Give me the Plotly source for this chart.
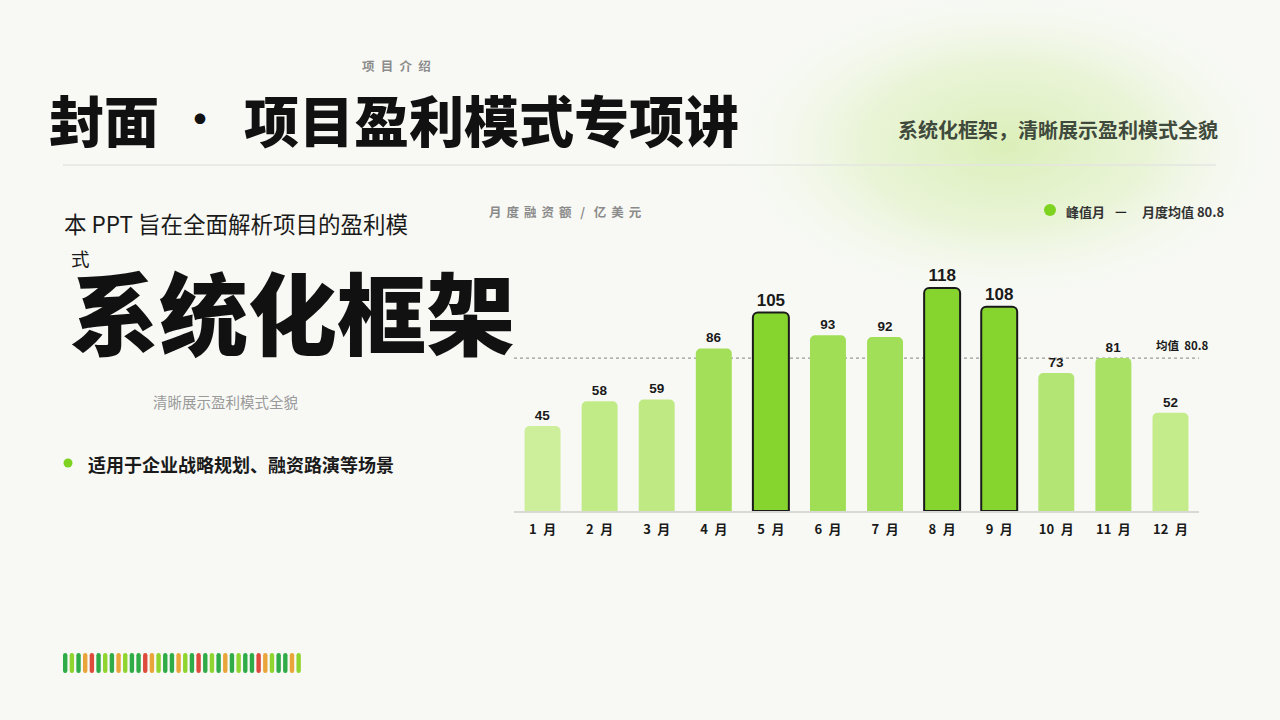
import base64
import plotly.graph_objects as go

# ---------------- data ----------------
months = ["1\u2002月", "2\u2002月", "3\u2002月", "4\u2002月", "5\u2002月", "6\u2002月",
          "7\u2002月", "8\u2002月", "9\u2002月", "10\u2002月", "11\u2002月", "12\u2002月"]
values = [45, 58, 59, 86, 105, 93, 92, 118, 108, 73, 81, 52]
peak_flags = [False, False, False, False, True, False, False, True, True, False, False, False]
bar_colors = ["#cdef9b", "#c1eb86", "#bfea83", "#a3df59", "#86d52f", "#a0de56",
              "#a2df58", "#86d52f", "#86d52f", "#b3e575", "#a8e163", "#c4ec8b"]
stripe_codes = ["D", "L", "D", "O", "R", "D", "L", "D", "O", "L", "D", "D",
                "R", "O", "L", "D", "D", "O", "L", "D", "R", "D", "L", "D",
                "O", "D", "L", "D", "D", "R", "O", "L", "D", "D", "O", "L"]
stripe_palette = {"D": "#2fab47", "L": "#8fd42f", "O": "#e9a43a", "R": "#de4a3c"}

mean_val = sum(values) / len(values)

W, H = 1280, 720
BG = "#f8f9f5"
FONT = "Noto Sans CJK SC"


def px(x):
    return x / W


def py(y):
    return 1 - y / H


fig = go.Figure()
fig.add_trace(go.Bar(
    x=months, y=values,
    width=0.63,
    marker=dict(
        color=bar_colors,
        cornerradius=5,
        line=dict(color=["#1a1a1a" if p else "rgba(0,0,0,0)" for p in peak_flags],
                  width=[2 if p else 0 for p in peak_flags]),
    ),
    text=[str(v) for v in values],
    textposition="outside",
    textfont=dict(family="Liberation Sans, Arial, sans-serif",
                  size=[17 if p else 13.5 for p in peak_flags],
                  color="#1a1a1a", weight="bold"),
    cliponaxis=False,
    showlegend=False,
    hoverinfo="skip",
))

shapes = []
shapes.append(dict(type="line", xref="x domain", yref="y", x0=0, x1=1, y0=mean_val, y1=mean_val,
                   line=dict(color="#9a9a9a", width=1.3, dash="dot"), layer="below"))
shapes.append(dict(type="line", xref="paper", yref="paper", x0=px(63), x1=px(1216), y0=py(165), y1=py(165),
                   line=dict(color="#e5e6e1", width=1.5)))
shapes.append(dict(type="circle", xref="paper", yref="paper",
                   x0=px(1044), x1=px(1056), y0=py(204), y1=py(216),
                   fillcolor="#7ed321", line=dict(width=0)))
shapes.append(dict(type="circle", xref="paper", yref="paper",
                   x0=px(63.5), x1=px(72.5), y0=py(458.5), y1=py(467.5),
                   fillcolor="#7ed321", line=dict(width=0)))


def pill(x0, x1, ytop, ybot):
    r = (x1 - x0) / 2
    xm = (x0 + x1) / 2
    pts = (f"M {px(x0)},{py(ytop + r)} Q {px(x0)},{py(ytop)} {px(xm)},{py(ytop)} "
           f"Q {px(x1)},{py(ytop)} {px(x1)},{py(ytop + r)} L {px(x1)},{py(ybot - r)} "
           f"Q {px(x1)},{py(ybot)} {px(xm)},{py(ybot)} Q {px(x0)},{py(ybot)} {px(x0)},{py(ybot - r)} Z")
    return pts


for i, c in enumerate(stripe_codes):
    x0 = 63 + i * 6.67
    shapes.append(dict(type="path", xref="paper", yref="paper", path=pill(x0, x0 + 4.4, 653, 673),
                       fillcolor=stripe_palette[c], line=dict(width=0)))

annotations = []


def txt(text, x, y, size, color="#111111", weight="normal", xanchor="left", family=FONT):
    annotations.append(dict(text=text, x=px(x), y=py(y), xref="paper", yref="paper",
                            xanchor=xanchor, yanchor="middle", showarrow=False,
                            font=dict(family=family, size=size, color=color, weight=weight)))


ts = "\u2009\u2009"
txt("项\u2002目\u2002介\u2002绍", 360, 65, 12.5, "#8c8c8c", "bold")
txt("封面", 47, 118, 55, "#111111", 900)
txt("·", 200, 117, 38, "#111111", 900, xanchor="center")
txt("项目盈利模式专项讲", 242, 118, 55, "#111111", 900)
txt("系统化框架，清晰展示盈利模式全貌", 1220, 129, 20, "#3f4a3c", "bold", xanchor="right")

txt("本 PPT 旨在全面解析项目的盈利模", 62, 223, 22.5, "#1a1a1a")
txt("式", 69, 258, 18.5, "#1a1a1a")
txt("系统化框架", 68, 309, 89, "#111111", 900)
txt("清晰展示盈利模式全貌", 151, 401, 14.5, "#9a9a9a")
txt("适用于企业战略规划、融资路演等场景", 86, 464, 18, "#1a1a1a", "bold")

txt(ts.join("月度融资额") + "\u2002\u2009/\u2002\u2009" + ts.join("亿美元"), 487, 211, 12.5, "#8a8a8a", "bold")
txt("峰值月", 1064, 211, 13, "#333333", "bold")
txt("—", 1113, 210, 13, "#222222", "bold")
txt("月度均值 80.8", 1140, 211, 13, "#333333", "bold")

annotations.append(dict(text="均值  80.8", x=1.018, y=mean_val, xref="x domain", yref="y",
                        xanchor="right", yanchor="bottom", yshift=3, showarrow=False,
                        font=dict(family=FONT, size=11.5, color="#1a1a1a", weight="bold")))

svg = ('<svg xmlns="http://www.w3.org/2000/svg" width="600" height="340">'
       '<defs><radialGradient id="g" cx="50%" cy="50%" r="50%">'
       '<stop offset="0%" stop-color="#d8eeb2" stop-opacity="0.9"/>'
       '<stop offset="50%" stop-color="#e3f2ca" stop-opacity="0.7"/>'
       '<stop offset="100%" stop-color="#f8f9f5" stop-opacity="0"/>'
       '</radialGradient></defs>'
       '<ellipse cx="300" cy="170" rx="300" ry="170" fill="url(#g)"/></svg>')
src = "data:image/svg+xml;base64," + base64.b64encode(svg.encode()).decode()

fig.update_layout(
    width=W, height=H,
    margin=dict(l=0, r=0, t=0, b=0),
    paper_bgcolor=BG, plot_bgcolor="rgba(0,0,0,0)",
    font=dict(family=FONT),
    xaxis=dict(domain=[px(514), px(1199)], showgrid=False, zeroline=False,
               showline=True, linecolor="#d8d9d4", linewidth=1.5,
               ticks="", ticklabelstandoff=6,
               tickfont=dict(family=FONT, size=13, color="#1a1a1a", weight="bold"),
               fixedrange=True),
    yaxis=dict(domain=[py(511), py(270)], range=[0, 127.5], visible=False, fixedrange=True),
    shapes=shapes,
    annotations=annotations,
    images=[dict(source=src, xref="paper", yref="paper", x=px(715), y=py(-20),
                 sizex=px(580), sizey=330 / H, sizing="stretch", layer="below",
                 xanchor="left", yanchor="top")],
)

fig.write_html("out.html", config={"displayModeBar": False},
               post_script="document.body.style.margin='0';document.body.style.overflow='hidden';")
